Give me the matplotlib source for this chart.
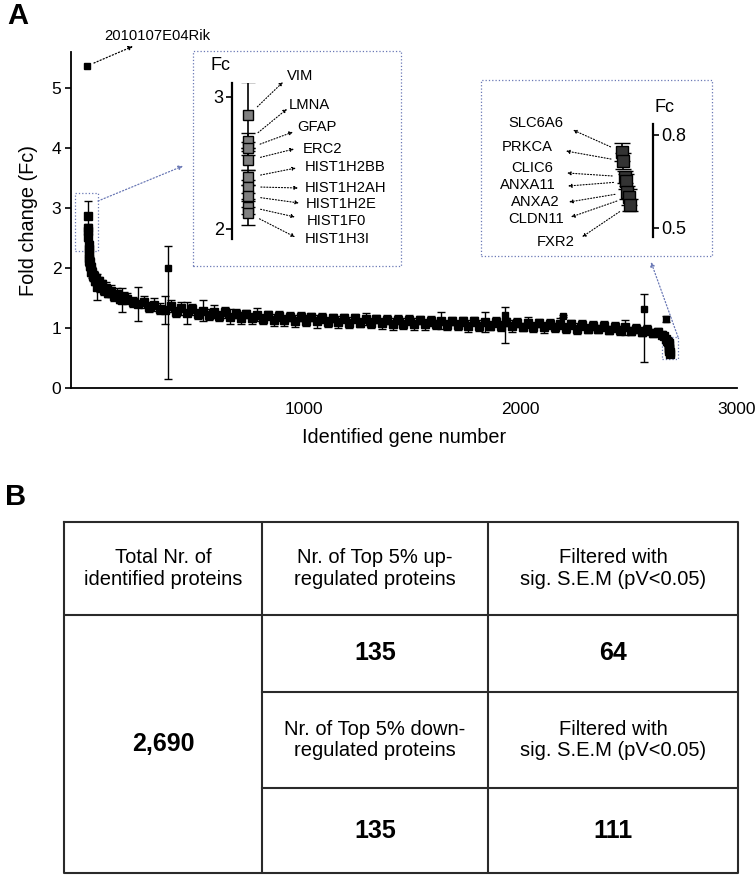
import matplotlib
matplotlib.use("Agg")
import matplotlib.pyplot as plt
from matplotlib import font_manager
from matplotlib.patches import Rectangle

# ---------------- data ----------------
# top outlier (rank 1)
top_gene = "2010107E04Rik"
top_rank, top_fc = 1, 5.37

# top up-regulated genes (inset 1), ranks 2..10
up_genes = ["VIM", "LMNA", "GFAP", "ERC2", "HIST1H2BB", "HIST1H2AH",
            "HIST1H2E", "HIST1F0", "HIST1H3I"]
up_ranks = [2, 3, 4, 5, 6, 7, 8, 9, 10]
up_fc = [2.86, 2.67, 2.61, 2.52, 2.39, 2.32, 2.25, 2.17, 2.12]
up_err = [0.25, 0.06, 0.05, 0.07, 0.06, 0.05, 0.08, 0.06, 0.09]

# bottom down-regulated genes (inset 2), ranks 2684..2690
down_genes = ["SLC6A6", "PRKCA", "CLIC6", "ANXA11", "ANXA2", "CLDN11", "FXR2"]
down_ranks = [2684, 2685, 2686, 2687, 2688, 2689, 2690]
down_fc = [0.745, 0.715, 0.665, 0.650, 0.615, 0.600, 0.575]
down_err = [0.030, 0.025, 0.020, 0.025, 0.020, 0.025, 0.020]

# bulk of the ranked curve
band_ranks = [12, 14, 16, 19, 22, 26, 30, 35, 40, 46,
              53, 60, 68, 77, 87, 98, 110, 123, 137, 150,
              160, 172,
              185, 210, 235, 260, 285, 310, 335, 360, 385, 410,
              435, 460, 485, 510, 535, 560, 585, 610, 635, 660,
              685, 710, 735, 760, 785, 810, 835, 860, 885, 910,
              935, 960, 985, 1010, 1035, 1060, 1085, 1110, 1135, 1160,
              1185, 1210, 1235, 1260, 1285, 1310, 1335, 1360, 1385, 1410,
              1435, 1460, 1485, 1510, 1535, 1560, 1585, 1610, 1635, 1660,
              1685, 1710, 1735, 1760, 1785, 1810, 1835, 1860, 1885, 1910,
              1935, 1960, 1985, 2010, 2035, 2060, 2085, 2110, 2135, 2160,
              2185, 2210, 2235, 2260, 2285, 2310, 2335, 2360, 2385, 2410,
              2435, 2460, 2485, 2510, 2535, 2560, 2585, 2610, 2635,
              2655, 2665, 2672, 2678, 2682]
band_fc = [2.10, 2.04, 2.02, 1.94, 1.93, 1.86, 1.87, 1.79, 1.82, 1.68,
           1.78, 1.69, 1.73, 1.63, 1.67, 1.58, 1.62, 1.53, 1.57, 1.49,
           1.46, 1.52,
           1.49, 1.43, 1.40, 1.44, 1.35, 1.39, 1.32, 1.30, 1.36, 1.27,
           1.33, 1.25, 1.31, 1.23, 1.29, 1.22, 1.27, 1.20, 1.26, 1.19,
           1.24, 1.17, 1.23, 1.16, 1.22, 1.15, 1.21, 1.14, 1.20, 1.13,
           1.19, 1.12, 1.19, 1.12, 1.18, 1.11, 1.17, 1.10, 1.17, 1.10,
           1.16, 1.09, 1.16, 1.09, 1.15, 1.08, 1.15, 1.08, 1.14, 1.07,
           1.14, 1.07, 1.13, 1.06, 1.13, 1.06, 1.12, 1.06, 1.12, 1.05,
           1.12, 1.05, 1.11, 1.04, 1.11, 1.04, 1.10, 1.04, 1.10, 1.03,
           1.10, 1.03, 1.09, 1.02, 1.09, 1.02, 1.08, 1.01, 1.07, 1.01,
           1.07, 1.00, 1.06, 0.99, 1.05, 0.99, 1.04, 0.98, 1.03, 0.97,
           1.02, 0.96, 1.01, 0.95, 0.99, 0.94, 0.97, 0.92, 0.93,
           0.89, 0.86, 0.82, 0.78, 0.76]
band_err = [0.09, 0.08, 0.07, 0.08, 0.09, 0.07, 0.08, 0.07, 0.08, 0.22,
            0.07, 0.09, 0.07, 0.08, 0.09, 0.07, 0.10, 0.08, 0.09, 0.07,
            0.20, 0.08,
            0.09, 0.08, 0.28, 0.10, 0.08, 0.11, 0.09, 0.24, 0.10, 0.08,
            0.11, 0.18, 0.09, 0.08, 0.17, 0.09, 0.11, 0.08, 0.09, 0.12,
            0.08, 0.10, 0.07, 0.09, 0.11, 0.08, 0.07, 0.10, 0.08, 0.09,
            0.07, 0.10, 0.08, 0.09, 0.07, 0.11, 0.08, 0.09, 0.07, 0.10,
            0.08, 0.09, 0.07, 0.08, 0.10, 0.08, 0.07, 0.09, 0.08, 0.10,
            0.07, 0.09, 0.08, 0.10, 0.07, 0.09, 0.08, 0.07, 0.14, 0.08,
            0.07, 0.09, 0.08, 0.10, 0.07, 0.09, 0.16, 0.07, 0.09, 0.08,
            0.07, 0.10, 0.08, 0.07, 0.09, 0.08, 0.07, 0.09, 0.08, 0.07,
            0.09, 0.08, 0.07, 0.09, 0.08, 0.07, 0.08, 0.07, 0.08, 0.07,
            0.08, 0.07, 0.12, 0.07, 0.08, 0.07, 0.08, 0.07, 0.07,
            0.06, 0.05, 0.05, 0.04, 0.03]

# isolated outliers with asymmetric error bars
out_ranks = [375, 1929, 2197, 2570, 2672]
out_fc = [2.00, 1.22, 1.20, 1.32, 1.15]
out_lo = [1.85, 0.47, 0.02, 0.89, 0.05]
out_hi = [0.37, 0.13, 0.02, 0.25, 0.05]

# table (panel B)
tbl_total = "2,690"
tbl_head = ["Total Nr. of\nidentified proteins",
            "Nr. of Top 5% up-\nregulated proteins",
            "Filtered with\nsig. S.E.M (pV<0.05)"]
tbl_down_head = ["Nr. of Top 5% down-\nregulated proteins",
                 "Filtered with\nsig. S.E.M (pV<0.05)"]
tbl_up_counts = ["135", "64"]
tbl_down_counts = ["135", "111"]

# ---------------- layout ----------------
W, H = 756, 875
names = {f.name for f in font_manager.fontManager.ttflist}
FONT = "Liberation Sans" if "Liberation Sans" in names else "DejaVu Sans"
plt.rcParams["font.family"] = [FONT, "DejaVu Sans"]

BLUE = "#6a78b5"


def box(l, t, r, b):
    return [l / W, 1 - b / H, (r - l) / W, (b - t) / H]


def fp(px, py):
    # figure pixel coords measured from top-left
    return (px, H - py)


def ftext(px, py, s, **kw):
    fig.text(px / W, 1 - py / H, s, **kw)


fig = plt.figure(figsize=(W / 100, H / 100), dpi=100)

# ---------------- panel A: main plot ----------------
ax = fig.add_axes(box(71, 52, 737, 388))
ax.set_xlim(-75, 3000)
ax.set_ylim(0, 5.6)
for s in ("top", "right"):
    ax.spines[s].set_visible(False)
for s in ("left", "bottom"):
    ax.spines[s].set_linewidth(1.3)
ax.set_yticks([0, 1, 2, 3, 4, 5])
ax.set_xticks([1000, 2000, 3000])
ax.tick_params(axis="y", length=4, width=1.2, labelsize=12.5, pad=3)
ax.tick_params(axis="x", length=0, labelsize=12.5, pad=10)
ax.set_ylabel("Fold change (Fc)", fontsize=14.3, labelpad=10)
ax.set_xlabel("Identified gene number", fontsize=14.3, labelpad=8)

eb = dict(fmt="s", color="black", ms=6.0, elinewidth=1.0, capsize=2.8,
          capthick=1.0, mec="black", mfc="black")
ax.errorbar(band_ranks, band_fc, yerr=band_err, **eb)
ax.errorbar(up_ranks, up_fc, yerr=up_err, **eb)
ax.errorbar(down_ranks, down_fc, yerr=down_err, **eb)
ax.errorbar(out_ranks, out_fc, yerr=[out_lo, out_hi],
            **dict(eb, ms=4.5))
ax.plot([top_rank], [top_fc], "s", color="black", ms=4.2)
ax.annotate(top_gene, xy=(top_rank, top_fc), xycoords="data",
            xytext=fp(104, 36), textcoords="figure pixels",
            ha="left", va="center", fontsize=10.6,
            arrowprops=dict(arrowstyle="<|-", ls=":", lw=0.9, color="black",
                            mutation_scale=6, shrinkA=1, shrinkB=5))

# small zoom boxes in the main plot
ax.add_patch(Rectangle((-56, 2.28), 106, 0.97, fill=False, ls=":", lw=0.9,
                       ec=BLUE))
ax.add_patch(Rectangle((2653, 0.48), 74, 0.37, fill=False, ls=":", lw=0.9,
                       ec=BLUE))

# inset frames
for (l, t, r, b) in [(193, 51, 401, 266), (481, 80, 712, 256)]:
    fig.patches.append(Rectangle((l / W, 1 - b / H), (r - l) / W, (b - t) / H,
                                 transform=fig.transFigure, fill=False,
                                 ls=":", lw=0.9, ec=BLUE))
ax.annotate("", xy=fp(183, 166), xycoords="figure pixels",
            xytext=fp(98, 201), textcoords="figure pixels",
            arrowprops=dict(arrowstyle="-|>", ls=":", lw=0.9, color=BLUE,
                            mutation_scale=6, shrinkA=0, shrinkB=0))
ax.annotate("", xy=fp(651, 262), xycoords="figure pixels",
            xytext=fp(678, 337), textcoords="figure pixels",
            arrowprops=dict(arrowstyle="-|>", ls=":", lw=0.9, color=BLUE,
                            mutation_scale=6, shrinkA=0, shrinkB=0))

# ---------------- inset 1 ----------------
a1 = fig.add_axes(box(232, 83, 272, 239))
a1.patch.set_alpha(0)
a1.set_ylim(1.924, 3.106)
a1.set_xlim(1, 12)
for s in ("top", "right", "bottom"):
    a1.spines[s].set_visible(False)
a1.spines["left"].set_linewidth(1.6)
a1.set_xticks([])
a1.set_yticks([2, 3])
a1.tick_params(axis="y", length=4, width=1.2, labelsize=13, pad=2)
a1.errorbar([5.5] * len(up_fc), up_fc, yerr=up_err, fmt="s", color="black",
            ms=7.5, mfc="0.5", mec="black", mew=1.0, elinewidth=1.2,
            capsize=5, capthick=1.2)
ftext(220, 65, "Fc", ha="center", va="center", fontsize=13)

up_text = [(287, 76), (289, 105), (297, 127), (303, 149), (305, 167),
           (305, 188), (306, 204), (307, 221), (305, 239)]
up_head = [(283, 82), (287, 109), (293, 132), (294, 149), (296, 168),
           (298, 188), (299, 203), (295, 217), (295, 237)]
for g, v, (tx, ty), (hx, hy) in zip(up_genes, up_fc, up_text, up_head):
    ftext(tx, ty, g, ha="left", va="center", fontsize=10.6)
    a1.annotate("", xy=fp(hx, hy), xycoords="figure pixels",
                xytext=(5.5, v), textcoords="data",
                arrowprops=dict(arrowstyle="-|>", ls=":", lw=0.8,
                                color="black", mutation_scale=5,
                                shrinkA=9, shrinkB=0))

# ---------------- inset 2 ----------------
a2 = fig.add_axes(box(600, 124, 653, 237))
a2.patch.set_alpha(0)
a2.set_ylim(0.471, 0.835)
a2.set_xlim(2667.5, 2707.3)
for s in ("top", "left", "bottom"):
    a2.spines[s].set_visible(False)
a2.spines["right"].set_linewidth(1.6)
a2.yaxis.tick_right()
a2.set_xticks([])
a2.set_yticks([0.5, 0.8])
a2.tick_params(axis="y", length=4, width=1.2, labelsize=13, pad=2)
a2.errorbar(down_ranks, down_fc, yerr=down_err, fmt="s", color="black",
            ms=8.5, mfc="0.2", mec="black", mew=1.0, elinewidth=1.2,
            capsize=5.5, capthick=1.2)
ftext(665, 108, "Fc", ha="center", va="center", fontsize=13)

down_text = [(536, 123), (527, 147), (532, 168), (528, 185), (535, 202),
             (536, 219), (556, 242)]
down_head = [(573, 130), (566, 151), (567, 173), (568, 186), (569, 202),
             (571, 217), (582, 237)]
for g, v, r, (tx, ty), (hx, hy) in zip(down_genes, down_fc, down_ranks,
                                       down_text, down_head):
    ftext(tx, ty, g, ha="center", va="center", fontsize=10.6)
    a2.annotate("", xy=fp(hx, hy), xycoords="figure pixels",
                xytext=(r, v), textcoords="data",
                arrowprops=dict(arrowstyle="-|>", ls=":", lw=0.8,
                                color="black", mutation_scale=5,
                                shrinkA=9, shrinkB=0))

# panel letters
ftext(18, 16, "A", ha="center", va="center", fontsize=21, fontweight="bold")
ftext(16, 497, "B", ha="center", va="center", fontsize=21, fontweight="bold")

# ---------------- panel B: table ----------------
cols = [64, 262, 488, 738]
rows = [522, 615, 692, 788, 873]
at = fig.add_axes(box(cols[0], rows[0], cols[-1], rows[-1]))
at.set_xlim(cols[0], cols[-1])
at.set_ylim(rows[-1], rows[0])
at.axis("off")
lk = dict(color="#2a2a2a", lw=1.5, solid_capstyle="projecting")
at.plot([cols[0], cols[-1], cols[-1], cols[0], cols[0]],
        [rows[0], rows[0], rows[-1], rows[-1], rows[0]], clip_on=False, **lk)
for c in cols[1:-1]:
    at.plot([c, c], [rows[0], rows[-1]], **lk)
at.plot([cols[0], cols[-1]], [rows[1], rows[1]], **lk)
for rr in rows[2:4]:
    at.plot([cols[1], cols[-1]], [rr, rr], **lk)


def cell(c0, c1, r0, r1, s, **kw):
    at.text((cols[c0] + cols[c1]) / 2, (rows[r0] + rows[r1]) / 2, s,
            ha="center", va="center", **kw)


hk = dict(fontsize=14.5, linespacing=1.15)
nk = dict(fontsize=18, fontweight="bold")
for i, s in enumerate(tbl_head):
    cell(i, i + 1, 0, 1, s, **hk)
cell(1, 2, 1, 2, tbl_up_counts[0], **nk)
cell(2, 3, 1, 2, tbl_up_counts[1], **nk)
cell(1, 2, 2, 3, tbl_down_head[0], **hk)
cell(2, 3, 2, 3, tbl_down_head[1], **hk)
cell(1, 2, 3, 4, tbl_down_counts[0], **nk)
cell(2, 3, 3, 4, tbl_down_counts[1], **nk)
cell(0, 1, 1, 4, tbl_total, **nk)

fig.savefig("out.png", dpi=100)
